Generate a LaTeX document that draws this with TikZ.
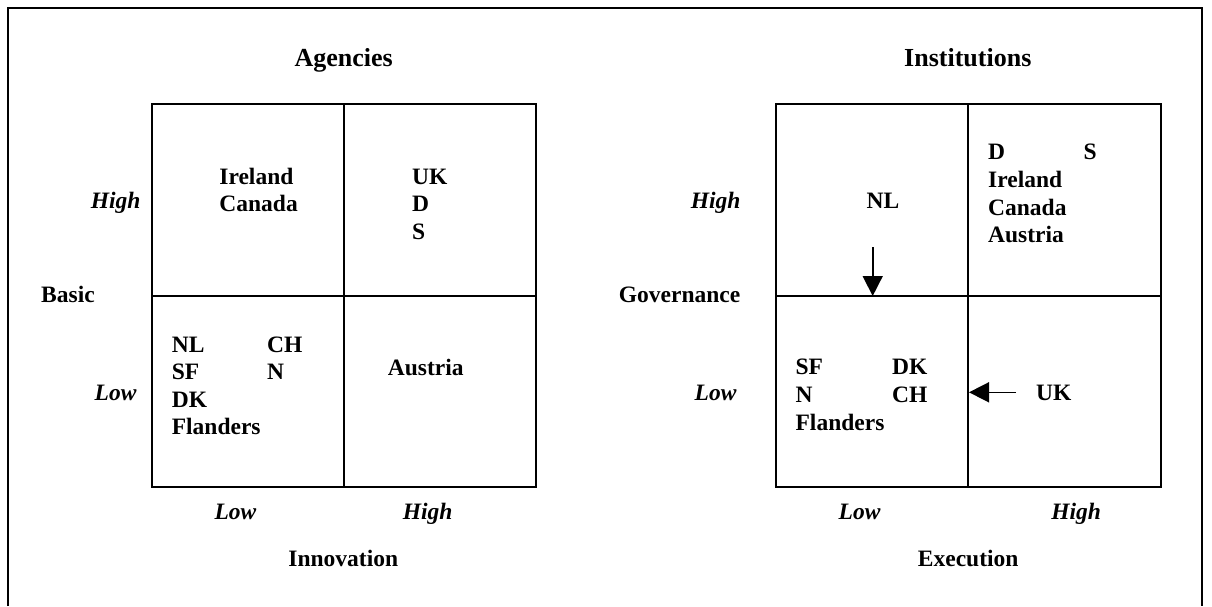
\documentclass[tikz,border=0pt]{standalone}
\usepackage{fontspec}
\setmainfont{Liberation Serif}
\usetikzlibrary{arrows.meta}
\begin{document}
\begin{tikzpicture}[x=1pt,y=-1pt,
  txt/.style={inner sep=0pt,font=\fontsize{23.5}{28}\selectfont\bfseries},
  lbl/.style={txt,anchor=base west},
  ctr/.style={txt,anchor=base},
  ital/.style={inner sep=0pt,anchor=base,font=\fontsize{23.5}{28}\selectfont\bfseries\itshape},
  ttl/.style={inner sep=0pt,anchor=base,font=\fontsize{26}{30}\selectfont\bfseries},
  gridline/.style={line width=1.6pt},
  frameline/.style={line width=1.6pt},
  arr/.style={line width=1.6pt,-{Triangle[length=20pt,width=20pt]}}]
\useasboundingbox (0,0) rectangle (1212,606);
\fill[white] (0,0) rectangle (1212,606);
% frame
\draw[frameline] (8,606) -- (8,8) -- (1202,8) -- (1202,606);
% left grid
\draw[gridline] (152,104) rectangle (536,487);
\draw[gridline] (344,104) -- (344,487);
\draw[gridline] (152,296) -- (536,296);
% right grid
\draw[gridline] (776,104) rectangle (1161,487);
\draw[gridline] (968,104) -- (968,487);
\draw[gridline] (776,296) -- (1161,296);

% left panel texts
\node[ttl] (agencies) at (343.6,66.5) {Agencies};
\node[ital] (lhigh) at (115.6,208.5) {High};
\node[ital] (llow) at (115.6,400) {Low};
\node[ctr] (basic) at (68,302.5) {Basic};
\node[ital] (lxlow) at (235.4,519) {Low};
\node[ital] (lxhigh) at (427.7,519) {High};
\node[ctr] (innov) at (343.3,566) {Innovation};
\node[lbl] (ireland) at (219.2,184) {Ireland};
\node[lbl] (canada) at (219.2,211.5) {Canada};
\node[lbl] (uk) at (412,184) {UK};
\node[lbl] (d) at (412,211.5) {D};
\node[lbl] (s) at (412,239) {S};
\node[lbl] (nl) at (171.6,352) {NL};
\node[lbl] (sf) at (171.6,379.5) {SF};
\node[lbl] (dk) at (171.6,407) {DK};
\node[lbl] (flanders) at (171.6,434.5) {Flanders};
\node[lbl] (ch) at (267,352) {CH};
\node[lbl] (n) at (267,379.5) {N};
\node[lbl] (austria) at (387.7,375) {Austria};

% right panel texts
\node[ttl] (institutions) at (967.8,66.5) {Institutions};
\node[ital] (rhigh) at (715.6,208.5) {High};
\node[ital] (rlow) at (715.6,400) {Low};
\node[ctr] (gov) at (679.6,302.5) {Governance};
\node[ital] (rxlow) at (859.6,519) {Low};
\node[ital] (rxhigh) at (1076.2,519) {High};
\node[ctr] (exec) at (968.2,566) {Execution};
\node[ctr] (rnl) at (883,208) {NL};
\node[lbl] (rd) at (988,159.6) {D};
\node[lbl] (rs) at (1083.4,159.6) {S};
\node[lbl] (rireland) at (988,187.3) {Ireland};
\node[lbl] (rcanada) at (988,215) {Canada};
\node[lbl] (raustria) at (988,242.4) {Austria};
\node[lbl] (rsf) at (795.4,374) {SF};
\node[lbl] (rn) at (795.4,402) {N};
\node[lbl] (rflanders) at (795.4,430) {Flanders};
\node[lbl] (rdk) at (892,374) {DK};
\node[lbl] (rch) at (892,402) {CH};
\node[lbl] (ruk) at (1036,400) {UK};

% arrows
\coordinate (nlstart) at (872.7,247);
\coordinate (nlend) at (872.7,296);
\coordinate (ukstart) at (1016,392.3);
\coordinate (ukend) at (969,392.3);
\draw[arr] (nlstart) -- (nlend);
\draw[arr] (ukstart) -- (ukend);
\end{tikzpicture}
\end{document}
